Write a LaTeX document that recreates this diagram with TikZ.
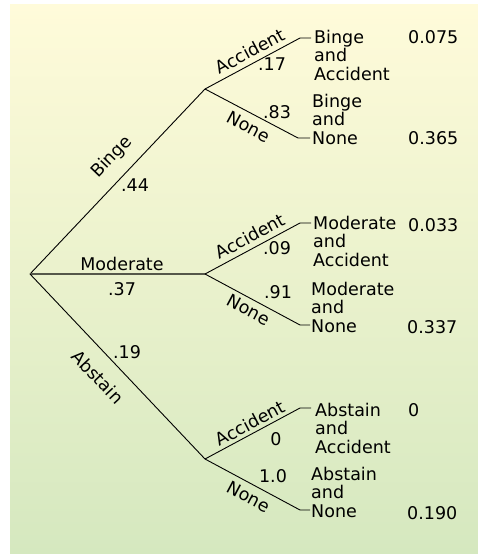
\documentclass[tikz,border=0pt]{standalone}
\usepackage{fontspec}
\setmainfont{DejaVu Sans}
\definecolor{bgtop}{HTML}{FFFBDA}
\definecolor{bgbot}{HTML}{D5E8BF}
\definecolor{modline}{HTML}{55584A}
\begin{document}
\begin{tikzpicture}[x=1pt,y=-1pt,
  lbl/.style={inner sep=0pt, font=\fontsize{17.5}{18.5}\selectfont},
  leaf/.style={lbl, align=left, anchor=base west},
  prob/.style={lbl, anchor=base west},
  branch/.style={line width=0.9pt, black},
  modbranch/.style={line width=1.8pt, modline}]
\useasboundingbox (0,0) rectangle (478,554);
\shade[top color=bgtop, bottom color=bgbot] (10,4) rectangle (478,554);
% points
\coordinate (root) at (30,274);
\coordinate (binge) at (205,89);
\coordinate (mod) at (205,274);
\coordinate (abs) at (205,459);
\coordinate (ba) at (300,38);  \coordinate (ba2) at (311,38);
\coordinate (bn) at (298,138); \coordinate (bn2) at (310,138);
\coordinate (ma) at (300,223); \coordinate (ma2) at (311,223);
\coordinate (mn) at (300,325); \coordinate (mn2) at (310,325);
\coordinate (aa) at (300,408); \coordinate (aa2) at (311,408);
\coordinate (an) at (300,510); \coordinate (an2) at (310,510);
% branches
\draw[branch] (root) -- (binge);
\draw[modbranch] (root) -- (mod);
\draw[branch] (root) -- (abs);
\draw[branch] (binge) -- (ba) -- (ba2);
\draw[branch] (binge) -- (bn) -- (bn2);
\draw[branch] (mod) -- (ma) -- (ma2);
\draw[branch] (mod) -- (mn) -- (mn2);
\draw[branch] (abs) -- (aa) -- (aa2);
\draw[branch] (abs) -- (an) -- (an2);
% first-level labels
\node[lbl, rotate=46.4] (lbinge) at (112,157) {Binge};
\node[lbl] (p44) at (135,185) {.44};
\node[lbl] (lmod) at (122,264) {Moderate};
\node[lbl] (p37) at (122,289) {.37};
\node[lbl, rotate=-46.9] (labs) at (98,377) {Abstain};
\node[lbl] (p19) at (127,352) {.19};
% second-level labels
\node[lbl, rotate=28.2] (lba) at (250,51) {Accident};
\node[lbl] (p17) at (272,64) {.17};
\node[lbl, rotate=-28] (lbn) at (249,127) {None};
\node[lbl] (p83) at (277,112) {.83};
\node[lbl, rotate=28.2] (lma) at (250,236) {Accident};
\node[lbl] (p09) at (277,248) {.09};
\node[lbl, rotate=-28] (lmn) at (249,310) {None};
\node[lbl] (p91) at (278,292) {.91};
\node[lbl, rotate=28.2] (laa) at (250,423) {Accident};
\node[lbl] (p0) at (276,439) {0};
\node[lbl, rotate=-28] (lan) at (249,497) {None};
\node[lbl] (p10) at (273,476) {1.0};
% leaves (anchored at the baseline of the last line)
\node[leaf] (tba) at (314,80) {Binge\\and\\Accident};
\node[leaf] (tbn) at (312,144) {Binge\\and\\None};
\node[leaf] (tma) at (313,266) {Moderate\\and\\Accident};
\node[leaf] (tmn) at (311,332) {Moderate\\and\\None};
\node[leaf] (taa) at (315,453) {Abstain\\and\\Accident};
\node[leaf] (tan) at (311,517) {Abstain\\and\\None};
% joint probabilities
\node[prob] (jba) at (408,43) {0.075};
\node[prob] (jbn) at (408,144) {0.365};
\node[prob] (jma) at (408,231) {0.033};
\node[prob] (jmn) at (407,333) {0.337};
\node[prob] (jaa) at (408,416) {0};
\node[prob] (jan) at (407,519) {0.190};
\end{tikzpicture}
\end{document}
